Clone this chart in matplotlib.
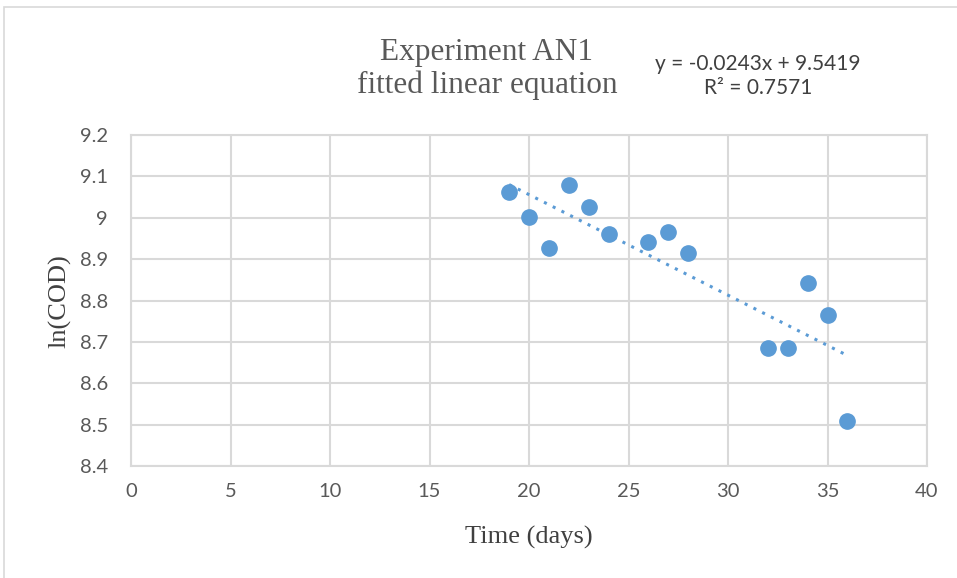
import numpy as np
import matplotlib
matplotlib.use('Agg')
import matplotlib.pyplot as plt
from matplotlib.patches import Rectangle

# data
days = [19, 20, 21, 22, 23, 24, 26, 27, 28, 32, 33, 34, 35, 36]
ln_cod = [9.062, 9.001, 8.928, 9.079, 9.025, 8.960, 8.941, 8.965, 8.915,
          8.686, 8.686, 8.842, 8.765, 8.509]
# trendline as printed on the chart
slope = -0.0243
intercept = 9.5419
r2 = 0.7571
x_ticks = [0, 5, 10, 15, 20, 25, 30, 35, 40]
y_ticks = [8.4, 8.5, 8.6, 8.7, 8.8, 8.9, 9.0, 9.1, 9.2]
y_labels = ['8.4', '8.5', '8.6', '8.7', '8.8', '8.9', '9', '9.1', '9.2']

blue = '#5B9BD5'
grid = '#D9D9D9'
tick_font = 'Lato'
serif = 'Liberation Serif'

fig = plt.figure(figsize=(9.57, 5.78), dpi=100)
fig.patches.append(Rectangle((4/957, -0.1), 1.1, 1 - 7/578 + 0.1, transform=fig.transFigure,
                             fill=False, edgecolor=grid, linewidth=1.2))
ax = fig.add_axes([131/957, 1 - 466/578, 796/957, 331/578])

ax.plot(days, ln_cod, 'o', color=blue, markersize=11, zorder=3)

# linear trendline over the data range
xs = np.array([min(days), max(days)])
ax.plot(xs, slope * xs + intercept, linestyle=(0, (1, 2.2)), color=blue,
        linewidth=2.2, zorder=2)

ax.set_xlim(0, 40)
ax.set_ylim(8.4, 9.2)
ax.set_xticks(x_ticks)
ax.set_yticks(y_ticks)
ax.set_xticklabels([str(t) for t in x_ticks], fontfamily=tick_font, fontsize=14.5, color='#595959')
ax.set_yticklabels(y_labels, fontfamily=tick_font, fontsize=14.5, color='#595959')
ax.tick_params(length=0)
ax.tick_params(axis='x', pad=12)
ax.tick_params(axis='y', pad=16.5)
ax.grid(True, color=grid, linewidth=1.5)
ax.set_axisbelow(True)
for s in ax.spines.values():
    s.set_color(grid)
    s.set_linewidth(1.5)

# axis titles
fig.text(529/957, 1 - 537/578, 'Time (days)', ha='center', va='center',
         fontfamily=serif, fontsize=19, color='#404040')
fig.text(60/957, 1 - 301/578, 'ln(COD)', ha='center', va='center', rotation=90,
         fontfamily=serif, fontsize=19, color='#404040')

fig.text(487/957, 1 - 69/578, 'Experiment AN1\nfitted linear equation', ha='center', va='center',
         fontfamily=serif, fontsize=22.5, color='#595959', linespacing=1.15)
fig.text(758/957, 1 - 76/578, 'y = %.4fx + %.4f\nR² = %.4f' % (slope, intercept, r2),
         ha='center', va='center', fontfamily=tick_font, fontsize=15, color='#404040',
         linespacing=1.3)

fig.savefig('out.png', dpi=100)
